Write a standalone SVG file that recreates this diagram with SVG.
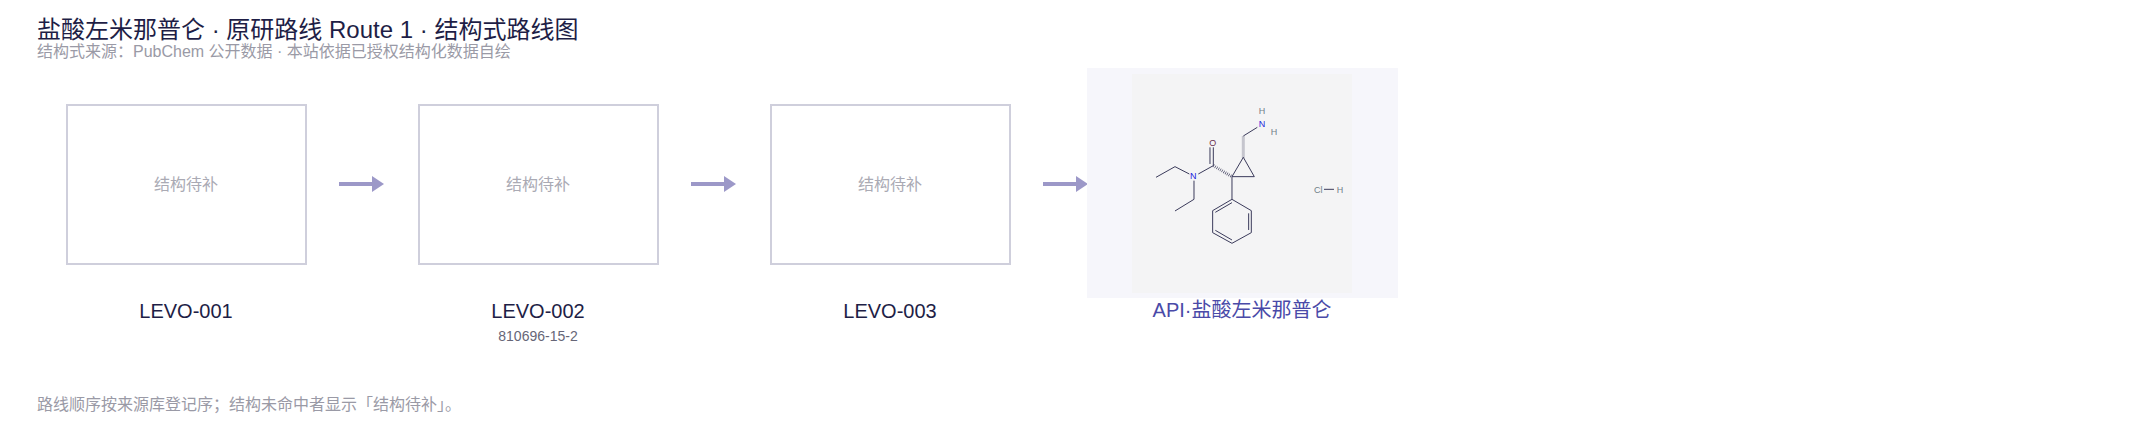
<svg xmlns="http://www.w3.org/2000/svg" width="2132" height="426" viewBox="0 0 2132 426">
<style>
text{font-family:"Liberation Sans","Noto Sans CJK SC",sans-serif}
.box{fill:#fff;stroke:#cfcfdc;stroke-width:2}
.ph{fill:#aaaab4;font-size:16px;text-anchor:middle}
.lbl{fill:#1e1e46;font-size:20px;text-anchor:middle}
.cas{fill:#666677;font-size:14px;text-anchor:middle}
.arr{stroke:#9c98c8;stroke-width:4;fill:none}
.b{stroke:#3a3a5a;stroke-width:3;fill:none}
</style>
<defs><marker id="ah" markerWidth="4" markerHeight="4" refX="2" refY="2" orient="auto"><path d="M0,0L3,2L0,4Z" fill="#9c98c8"/></marker></defs>
<rect width="2132" height="426" fill="#fff"/>
<text x="37" y="38" font-size="24" fill="#1e1e46">盐酸左米那普仑 · 原研路线 Route 1 · 结构式路线图</text>
<text x="37" y="57" font-size="16" fill="#9a9aa6">结构式来源：PubChem 公开数据 · 本站依据已授权结构化数据自绘</text>
<g id="connectors">
<line class="arr" x1="339" y1="184" x2="380" y2="184" marker-end="url(#ah)"/>
<line class="arr" x1="691" y1="184" x2="732" y2="184" marker-end="url(#ah)"/>
<line class="arr" x1="1043" y1="184" x2="1084" y2="184" marker-end="url(#ah)"/>
</g>
<g id="n1"><rect class="box" x="67" y="105" width="239" height="159"/><text class="ph" x="186" y="190">结构待补</text><text class="lbl" x="186" y="318">LEVO-001</text></g>
<g id="n2"><rect class="box" x="419" y="105" width="239" height="159"/><text class="ph" x="538" y="190">结构待补</text><text class="lbl" x="538" y="318">LEVO-002</text><text class="cas" x="538" y="341">810696-15-2</text></g>
<g id="n3"><rect class="box" x="771" y="105" width="239" height="159"/><text class="ph" x="890" y="190">结构待补</text><text class="lbl" x="890" y="318">LEVO-003</text></g>
<g id="api">
<rect x="1087" y="68" width="311" height="230" fill="#f6f6fb"/>
<rect x="1132" y="74" width="220" height="219" fill="#f4f4f5"/>
<g transform="translate(1050,50) scale(0.3333)">
<polyline class="b" points="318,382 375,350 418,372"/>
<polyline class="b" points="432,392 432,448 375,483"/>
<line class="b" x1="445" y1="372" x2="490" y2="347"/>
<line class="b" x1="490" y1="347" x2="490" y2="292"/>
<line class="b" x1="480" y1="342" x2="480" y2="292"/>
<path d="M490,347 L546,380" stroke="#3a3a5a" stroke-width="9" stroke-dasharray="2,4" fill="none"/>
<path d="M580,322 L580,260" stroke="#3a3a5a" stroke-width="9" stroke-dasharray="2,4" fill="none"/>
<polygon class="b" points="546,380 580,322 613,380"/>
<line class="b" x1="580" y1="258" x2="622" y2="232"/>
<line class="b" x1="546" y1="380" x2="546" y2="448"/>
<polygon class="b" points="546,448 604,482 604,548 546,580 488,548 488,482"/>
<line class="b" x1="596" y1="490" x2="596" y2="540"/>
<line class="b" x1="546" y1="570" x2="496" y2="541"/>
<line class="b" x1="546" y1="458" x2="496" y2="487"/>
<line class="b" x1="822" y1="418" x2="852" y2="418"/>
<g font-size="27" text-anchor="middle">
<text x="430" y="388" fill="#1a1adc">N</text>
<text x="488" y="288" fill="#6a3050">O</text>
<text x="636" y="232" fill="#1a1adc">N</text>
<text x="636" y="192" fill="#708088">H</text>
<text x="672" y="254" fill="#708088">H</text>
<text x="805" y="428" fill="#708088">Cl</text>
<text x="870" y="428" fill="#708088">H</text>
</g>
</g>
<text x="1242" y="317" font-size="20" fill="#4a4aa8" text-anchor="middle">API·盐酸左米那普仑</text>
</g>
<text x="37" y="410" font-size="16" fill="#9a9aa6">路线顺序按来源库登记序；结构未命中者显示「结构待补」。</text>
</svg>
